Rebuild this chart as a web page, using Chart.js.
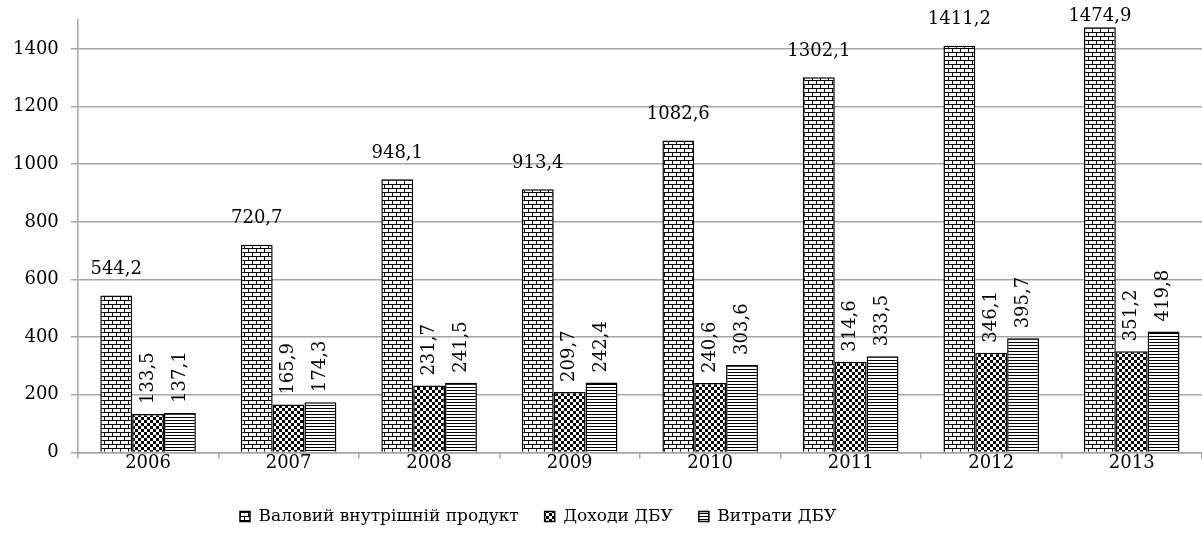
<!DOCTYPE html>
<html>
<head>
<meta charset="utf-8">
<script src="https://cdn.jsdelivr.net/npm/chart.js@4/dist/chart.umd.min.js"></script>
<style>
  html, body { margin: 0; padding: 0; background: #ffffff; }
  #wrap { width: 1202px; height: 535px; position: relative; }
</style>
</head>
<body>
<div id="wrap"><canvas id="c" width="1202" height="535"></canvas></div>
<script>
// ---- data ----
const categories = ['2006', '2007', '2008', '2009', '2010', '2011', '2012', '2013'];
const seriesNames = ['Валовий внутрішній продукт', 'Доходи ДБУ', 'Витрати ДБУ'];
const gdp = [544.2, 720.7, 948.1, 913.4, 1082.6, 1302.1, 1411.2, 1474.9];
const revenues = [133.5, 165.9, 231.7, 209.7, 240.6, 314.6, 346.1, 351.2];
const expenditures = [137.1, 174.3, 241.5, 242.4, 303.6, 333.5, 395.7, 419.8];
const yTicks = [0, 200, 400, 600, 800, 1000, 1200, 1400];

// ---- patterns ----
const ctxMain = document.getElementById('c').getContext('2d');
function pat(w, h, draw) {
  const c = document.createElement('canvas');
  c.width = w; c.height = h;
  const g = c.getContext('2d');
  g.fillStyle = '#ffffff';
  g.fillRect(0, 0, w, h);
  g.fillStyle = '#000000';
  draw(g);
  return ctxMain.createPattern(c, 'repeat');
}
// brick
const brick = pat(8, 8, g => {
  g.fillRect(0, 0, 8, 1);
  g.fillRect(0, 4, 8, 1);
  g.fillRect(0, 0, 1, 4);
  g.fillRect(4, 4, 1, 4);
});
// small checkerboard
const checker = pat(6, 6, g => {
  g.fillRect(0, 0, 3, 3);
  g.fillRect(3, 3, 3, 3);
});
// horizontal lines
const hlines = pat(4, 3, g => {
  g.fillRect(0, 0, 4, 1);
});

const FONT = "'DejaVu Serif', serif";
const fmt = v => v.toFixed(1).replace('.', ',');

const labelPlugin = {
  id: 'valueLabels',
  afterLayout(chart) {
    // legend starts further left, like the reference
    if (chart.legend) chart.legend.left = 240 - chart.legend.options.labels.padding;
  },
  afterDatasetsDraw(chart) {
    const ctx = chart.ctx;
    ctx.save();
    ctx.fillStyle = '#000000';
    ctx.font = '18px ' + FONT;
    chart.data.datasets.forEach((ds, di) => {
      const meta = chart.getDatasetMeta(di);
      meta.data.forEach((bar, i) => {
        const txt = fmt(ds.data[i]);
        if (di === 0) {
          ctx.textAlign = 'center';
          ctx.textBaseline = 'middle';
          ctx.fillText(txt, bar.x, Math.max(bar.y - 26, 16));
        } else {
          ctx.save();
          ctx.translate(bar.x, bar.y - 10);
          ctx.rotate(-Math.PI / 2);
          ctx.textAlign = 'left';
          ctx.textBaseline = 'middle';
          ctx.fillText(txt, 0, 0);
          ctx.restore();
        }
      });
    });
    ctx.restore();
  }
};

new Chart(document.getElementById('c'), {
  type: 'bar',
  data: {
    labels: categories,
    datasets: [
      { label: seriesNames[0], data: gdp, backgroundColor: brick, borderColor: '#000000', borderWidth: 1.5 },
      { label: seriesNames[1], data: revenues, backgroundColor: checker, borderColor: '#000000', borderWidth: 1.5 },
      { label: seriesNames[2], data: expenditures, backgroundColor: hlines, borderColor: '#000000', borderWidth: 1.5 }
    ]
  },
  options: {
    responsive: false,
    animation: false,
    devicePixelRatio: 1,
    layout: { padding: { top: 9.5, left: 1, right: 0, bottom: 0 } },
    datasets: { bar: { categoryPercentage: 0.68, barPercentage: 1.0 } },
    plugins: {
      legend: {
        position: 'bottom',
        align: 'start',
        title: { display: true, text: '', font: { size: 1 }, padding: { top: 12.8, bottom: 0 } },
        labels: {
          font: { family: FONT, size: 17 },
          color: '#000000',
          boxWidth: 10,
          boxHeight: 10,
          padding: 26
        }
      },
      tooltip: { enabled: false }
    },
    scales: {
      x: {
        grid: { drawOnChartArea: false, drawTicks: true, tickLength: 6, color: '#a6a6a6', lineWidth: 1.5, offset: true },
        border: { color: '#a6a6a6', width: 1.5 },
        ticks: { font: { family: FONT, size: 18 }, color: '#000000', padding: -6 }
      },
      y: {
        min: 0,
        max: 1500,
        afterBuildTicks: scale => { scale.ticks = yTicks.map(v => ({ value: v })); },
        grid: { color: '#a6a6a6', lineWidth: 1.5, tickLength: 7 },
        border: { color: '#a6a6a6', width: 1.5 },
        ticks: { font: { family: FONT, size: 18, lineHeight: 0.9 }, color: '#000000', padding: 12, callback: v => String(v) }
      }
    }
  },
  plugins: [labelPlugin]
});
</script>
</body>
</html>
